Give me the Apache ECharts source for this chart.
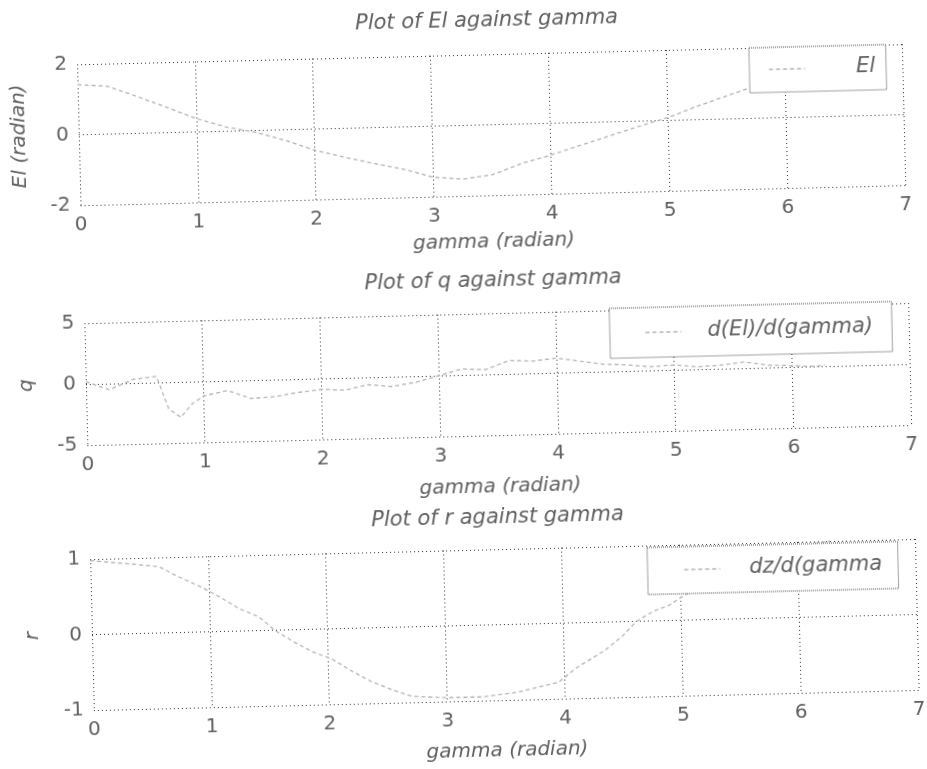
<!DOCTYPE html>
<html><head><meta charset="utf-8">
<script src="https://cdn.jsdelivr.net/npm/echarts@6/dist/echarts.min.js"></script>
<style>
html,body{margin:0;padding:0;background:#fff;overflow:hidden}
#chart{width:927px;height:769px;transform:rotate(-1.4deg);transform-origin:50% 50%;}
</style>
</head><body><div id="chart"></div>
<script>
// ---- data ----
const titles = ['Plot of El against gamma', 'Plot of q against gamma', 'Plot of r against gamma'];
const xLabel = 'gamma (radian)';
const yLabels = ['El (radian)', 'q', 'r'];
const legendNames = ['El', 'd(El)/d(gamma)', 'dz/d(gamma'];
const xTicks = [0, 1, 2, 3, 4, 5, 6, 7];
const yTicksEl = [-2, 0, 2];
const yTicksQ = [-5, 0, 5];
const yTicksR = [-1, 0, 1];

const gammaEl = [0, 0.25, 0.5, 0.75, 1.0, 1.25, 1.5, 1.75, 2.0, 2.25, 2.5, 2.75, 3.0, 3.25, 3.5, 3.75, 4.0, 4.25, 4.5, 4.75, 5.0, 5.25, 5.5, 5.75, 6.0, 6.28];
const elValues = [1.42, 1.36, 1.05, 0.72, 0.38, 0.12, -0.05, -0.30, -0.60, -0.82, -1.02, -1.20, -1.45, -1.52, -1.42, -1.12, -0.90, -0.65, -0.40, -0.15, 0.08, 0.38, 0.65, 0.92, 1.15, 1.38];

const gammaQ = [0, 0.2, 0.4, 0.6, 0.7, 0.8, 0.9, 1.0, 1.2, 1.4, 1.6, 1.8, 2.0, 2.2, 2.4, 2.6, 2.8, 3.0, 3.2, 3.4, 3.6, 3.8, 4.0, 4.2, 4.4, 4.6, 4.8, 5.0, 5.2, 5.4, 5.6, 5.8, 6.0, 6.2, 6.28];
const qValues = [0.2, -0.5, 0.3, 0.5, -2.2, -2.9, -1.8, -1.2, -0.8, -1.5, -1.4, -1.1, -0.9, -1.0, -0.6, -0.8, -0.5, 0.0, 0.5, 0.4, 1.1, 1.0, 1.2, 0.9, 0.6, 0.5, 0.3, 0.4, 0.2, 0.3, 0.5, 0.2, 0.1, 0.0, 0.1];

const gammaR = [0, 0.3, 0.58, 0.73, 0.93, 1.1, 1.25, 1.42, 1.55, 1.72, 1.87, 2.03, 2.2, 2.37, 2.54, 2.7, 3.0, 3.3, 3.6, 3.95, 4.1, 4.35, 4.5, 4.62, 4.77, 4.9, 5.0, 5.3, 5.6, 5.9, 6.28];
const rValues = [0.98, 0.93, 0.88, 0.75, 0.60, 0.45, 0.30, 0.18, 0.0, -0.17, -0.30, -0.40, -0.57, -0.72, -0.83, -0.92, -0.95, -0.95, -0.90, -0.78, -0.60, -0.37, -0.19, 0.0, 0.13, 0.20, 0.30, 0.55, 0.78, 0.92, 1.0];

// ---- styling / layout ----
const FONT = 'DejaVu Sans';
const TXT = '#606060';
const LINE = '#b4b4b4';
const GRIDC = '#333';
const grids = [
  {left: 85, top: 55, width: 825, height: 141},
  {left: 86, top: 314, width: 824, height: 122},
  {left: 86, top: 550, width: 825, height: 151}
];
const titleTops = [11, 271, 508];
const titleLefts = [364, 367, 368];
const xNameGaps = [37, 42, 41];
const yTickSets = [yTicksEl, yTicksQ, yTicksR];

const pairs = (xs, ys) => xs.map((x, i) => [x, ys[i]]);
const seriesData = [pairs(gammaEl, elValues), pairs(gammaQ, qValues), pairs(gammaR, rValues)];

const legends = [
  {left: 757, top: 55, padding: [10, 11, 11, 19], gap: 46},
  {left: 611, top: 312, padding: [13, 19, 13, 35], gap: 21},
  {left: 643, top: 552, padding: [11, 16, 12, 36], gap: 24}
];

const grid = grids.map(g => Object.assign({containLabel: false}, g));
const splitStyle = {show: true, lineStyle: {type: [1, 3], color: GRIDC, width: 1}};
const xAxis = grids.map((g, i) => ({
  type: 'value', gridIndex: i,
  min: xTicks[0], max: xTicks[xTicks.length - 1], interval: xTicks[1] - xTicks[0],
  name: xLabel, nameLocation: 'middle', nameGap: xNameGaps[i],
  nameTextStyle: {fontFamily: FONT, fontStyle: 'italic', fontSize: 20, color: TXT},
  axisLine: {show: false}, axisTick: {show: false},
  axisLabel: {fontFamily: FONT, fontSize: 20, color: TXT, margin: 10},
  splitLine: splitStyle
}));
const yAxis = grids.map((g, i) => {
  const t = yTickSets[i];
  return {
    type: 'value', gridIndex: i,
    min: t[0], max: t[t.length - 1], interval: t[1] - t[0],
    name: yLabels[i], nameLocation: 'middle', nameGap: 49,
    nameTextStyle: {fontFamily: FONT, fontStyle: 'italic', fontSize: 20, color: TXT},
    axisLine: {show: false}, axisTick: {show: false},
    axisLabel: {fontFamily: FONT, fontSize: 20, color: TXT, margin: 10},
    splitLine: splitStyle
  };
});
const series = seriesData.map((d, i) => ({
  type: 'line', name: legendNames[i], xAxisIndex: i, yAxisIndex: i,
  data: d, symbol: 'none', showSymbol: false, smooth: false,
  lineStyle: {color: LINE, width: 1.3, type: [4, 3]},
  itemStyle: {color: LINE}
}));
const title = titles.map((t, i) => ({
  text: t, left: titleLefts[i], top: titleTops[i], padding: 0,
  textStyle: {fontFamily: FONT, fontStyle: 'italic', fontWeight: 'normal', fontSize: 21, color: TXT}
}));
const legend = legends.map((l, i) => ({
  data: [legendNames[i]], left: l.left, top: l.top, padding: l.padding,
  orient: 'horizontal', itemWidth: 36, itemHeight: 14,
  itemStyle: {opacity: 0},
  lineStyle: {color: LINE, width: 1.3, type: [4, 3]},
  backgroundColor: '#fff', borderColor: '#444', borderWidth: 1, borderType: 'dotted',
  selectedMode: false,
  textStyle: {fontFamily: FONT, fontStyle: 'italic', fontSize: 21, color: TXT, padding: [0, 0, 0, l.gap], lineHeight: 24}
}));

const chart = echarts.init(document.getElementById('chart'), null, {renderer: 'canvas'});
chart.setOption({
  animation: false, backgroundColor: '#fff',
  title, legend, grid, xAxis, yAxis, series
});
</script>
</body></html>
